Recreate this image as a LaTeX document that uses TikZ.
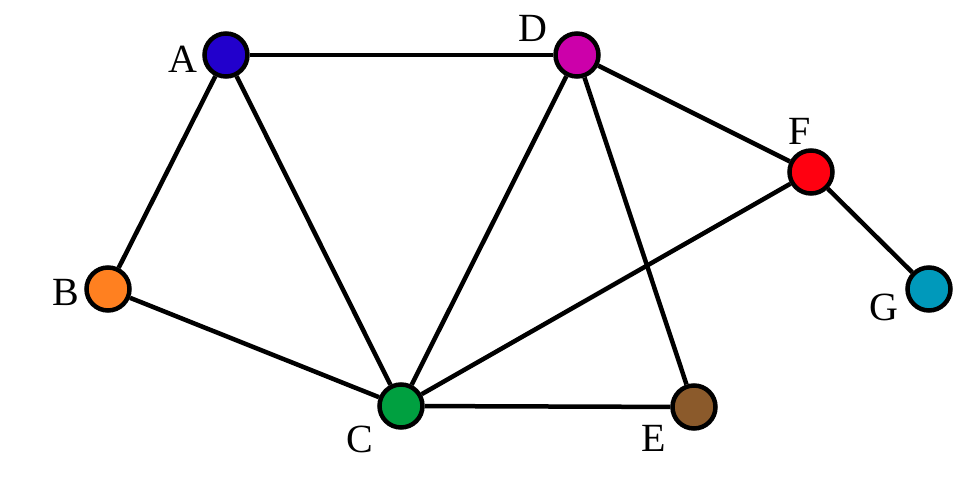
\documentclass[tikz,border=0pt]{standalone}
\usepackage{fontspec}
\setmainfont{Liberation Serif}
\definecolor{cA}{HTML}{2200CC}
\definecolor{cB}{HTML}{FF8020}
\definecolor{cC}{HTML}{00A040}
\definecolor{cD}{HTML}{CC00AA}
\definecolor{cE}{HTML}{8B5A2B}
\definecolor{cF}{HTML}{FF0010}
\definecolor{cG}{HTML}{0099BB}
\begin{document}
\begin{tikzpicture}[x=1pt,y=1pt,
  vert/.style={circle,draw=black,line width=4.5pt,minimum size=43pt,inner sep=0pt},
  lab/.style={font=\fontsize{40}{44}\selectfont,inner sep=0pt},
  edge/.style={line width=4.5pt,black}]
\useasboundingbox (0,0) rectangle (967,495);
\node[vert,fill=cA] (A) at (226,440) {};
\node[vert,fill=cB] (B) at (108,206) {};
\node[vert,fill=cC] (C) at (401,89) {};
\node[vert,fill=cD] (D) at (577,440) {};
\node[vert,fill=cE] (E) at (694,88) {};
\node[vert,fill=cF] (F) at (811,323) {};
\node[vert,fill=cG] (G) at (929,206) {};
\node[lab] (lA) at (183,436) {A};
\node[lab] (lB) at (66,203) {B};
\node[lab] (lC) at (360,56) {C};
\node[lab] (lD) at (533,467) {D};
\node[lab] (lE) at (654,57) {E};
\node[lab] (lF) at (800,364) {F};
\node[lab] (lG) at (884,188) {G};
\draw[edge] (A) -- (D);
\draw[edge] (A) -- (B);
\draw[edge] (A) -- (C);
\draw[edge] (B) -- (C);
\draw[edge] (C) -- (D);
\draw[edge] (C) -- (F);
\draw[edge] (C) -- (E);
\draw[edge] (D) -- (E);
\draw[edge] (D) -- (F);
\draw[edge] (F) -- (G);
\end{tikzpicture}
\end{document}
